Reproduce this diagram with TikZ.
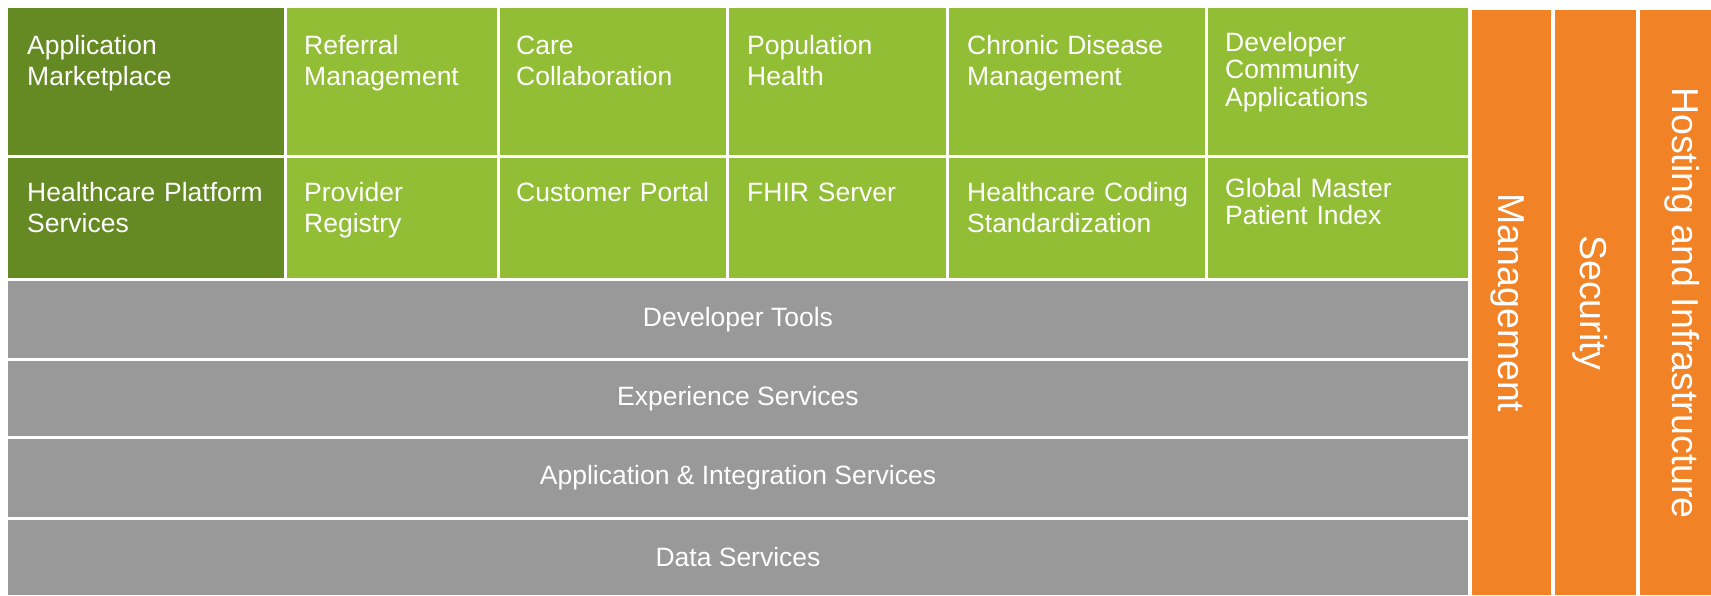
\documentclass[tikz,border=0pt]{standalone}
\usepackage{fontspec}
\setmainfont{Liberation Sans}
\definecolor{darkgreen}{HTML}{658A23}
\definecolor{lightgreen}{HTML}{92BE35}
\definecolor{layergrey}{HTML}{999999}
\definecolor{sideorange}{HTML}{F28226}
\tikzset{
  celltext/.style={anchor=base west, inner sep=0pt, text=white, text width=250pt,
    align=left, font=\fontsize{26.5}{#1}\selectfont},
  celltext/.default=31.5,
  layertext/.style={inner sep=0pt, text=white, font=\fontsize{26.5}{31.5}\selectfont},
  sidetext/.style={inner sep=0pt, text=white, rotate=-90, font=\fontsize{37.5}{42}\selectfont}
}
\begin{document}
\begin{tikzpicture}[x=1pt,y=-1pt]
        \useasboundingbox (0,0) rectangle (1711,595);

        % Draw the green cells
        \foreach \xa/\xb/\col in {8/283.5/darkgreen, 286.5/496.5/lightgreen, 499.5/725.5/lightgreen,
            728.5/945.5/lightgreen, 948.5/1204.5/lightgreen, 1207.5/1468/lightgreen} {
            \fill[\col] (\xa,8) rectangle (\xb,154.5);
            \fill[\col] (\xa,157.5) rectangle (\xb,278);
        };

        % Labels of the top row
        \foreach \name/\x/\label in {market/27/Application\\Marketplace, referral/304/Referral\\Management,
            care/516/Care\\Collaboration, population/747/Population\\Health,
            chronic/967/Chronic Disease\\Management} {
            \node[celltext] (\name) at (\x,54) {\label};
        };
        \node[celltext=27.8] (community) at (1225,51) {Developer\\Community\\Applications};

        % Labels of the second row
        \foreach \name/\x/\label in {platform/27/Healthcare Platform\\Services, registry/304/Provider\\Registry,
            portal/516/Customer Portal, fhir/747/FHIR Server,
            coding/967/Healthcare Coding\\Standardization} {
            \node[celltext] (\name) at (\x,201) {\label};
        };
        \node[celltext=27.5] (mpi) at (1225,197) {Global Master\\Patient Index};

        % Grey layers
        \foreach \name/\ya/\yb/\label in {devtools/281/358/Developer Tools, experience/361/436/Experience Services,
            integration/439/517/Application \& Integration Services, data/520/595/Data Services} {
            \fill[layergrey] (8,\ya) rectangle (1468,\yb);
            \node[layertext] (\name) at (738,{(\ya+\yb)/2}) {\label};
        };

        % Orange columns on the right
        \foreach \name/\xa/\xb/\xt/\label in {management/1472/1551/1507.5/Management,
            security/1555/1636/1590.5/Security, hosting/1640/1711/1682.5/Hosting and Infrastructure} {
            \fill[sideorange] (\xa,10) rectangle (\xb,595);
            \node[sidetext] (\name) at (\xt,303) {\label};
        };
    \end{tikzpicture}
\end{document}
